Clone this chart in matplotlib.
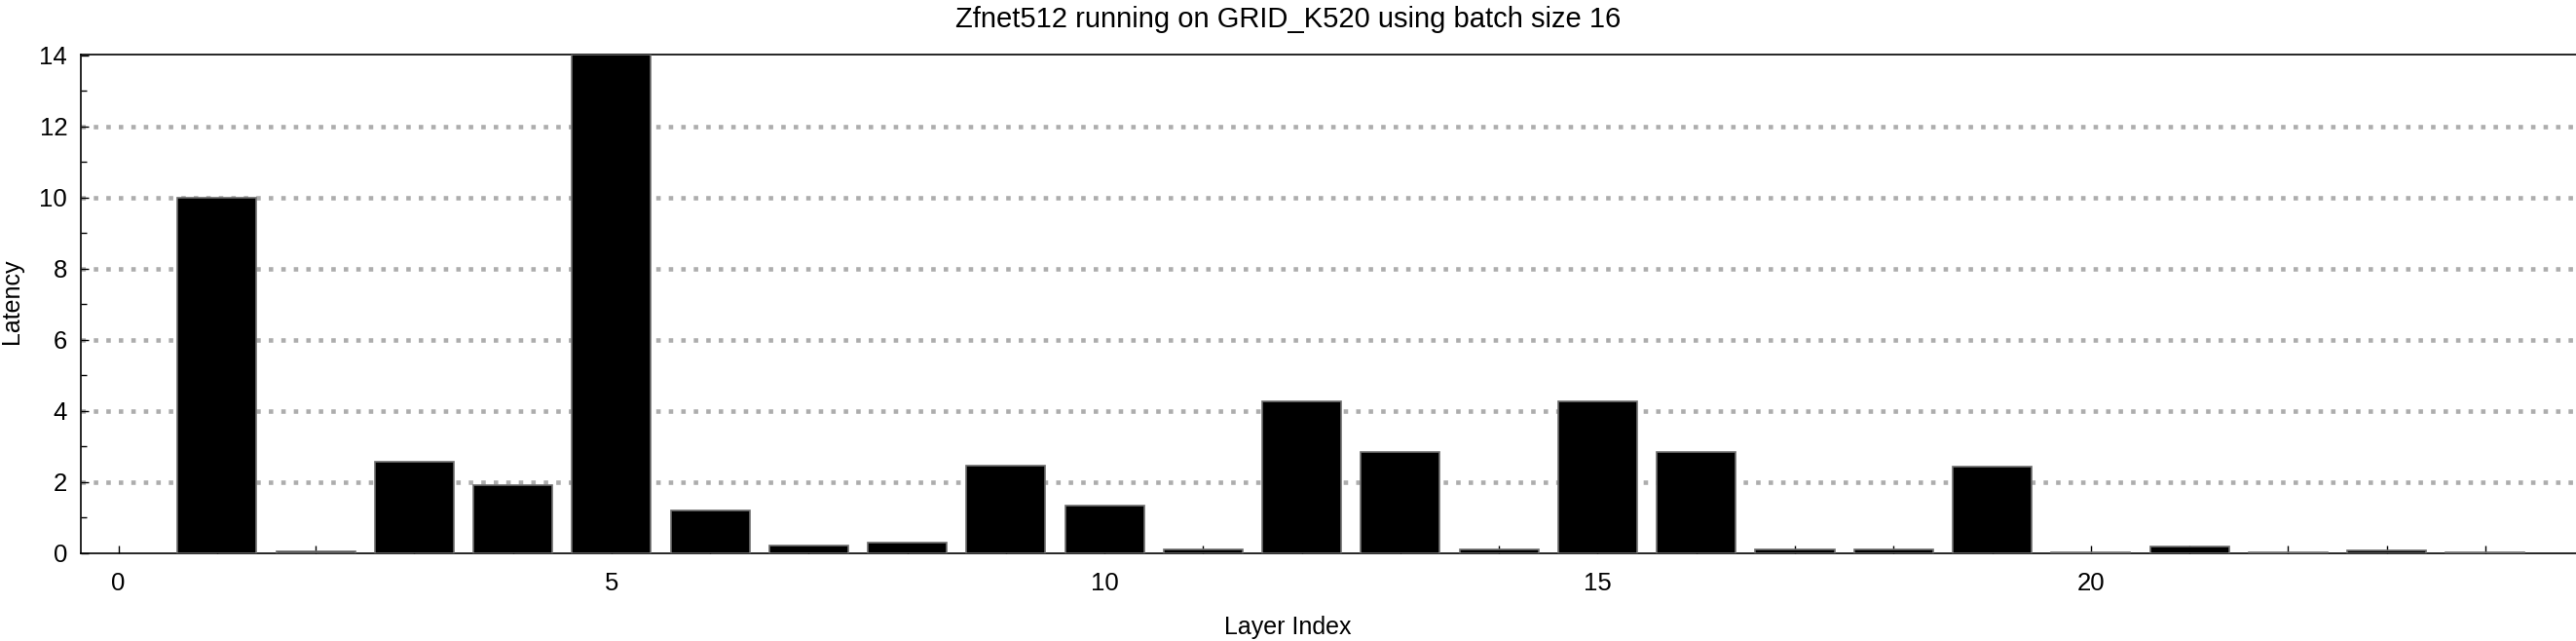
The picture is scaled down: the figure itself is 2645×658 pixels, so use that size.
import matplotlib
matplotlib.use("Agg")
import matplotlib.pyplot as plt
from matplotlib.ticker import MultipleLocator

# ── data ────────────────────────────────────────────────────────────────────
layer_index = list(range(1, 25))
latency = [10.0, 0.05, 2.57, 1.92, 14.02, 1.21, 0.22, 0.30, 2.47, 1.34,
           0.11, 4.27, 2.85, 0.11, 4.27, 2.85, 0.11, 0.11, 2.44, 0.03,
           0.19, 0.03, 0.08, 0.03]

TITLE = "Zfnet512 running on GRID_K520 using batch size 16"
XLABEL = "Layer Index"
YLABEL = "Latency"

plt.rcParams["font.family"] = ["Liberation Sans", "DejaVu Sans"]

fig = plt.figure(figsize=(26.45, 6.58), dpi=100)
ax = fig.add_axes([0.0314, 0.1368, 0.9686, 0.7781])

ax.bar(layer_index, latency, width=0.8, color="black",
       edgecolor="#6e6e6e", linewidth=1.2, zorder=3)

ax.set_xlim(-0.38, 24.92)
ax.set_ylim(0, 14.02)

# dotted horizontal grid behind the bars
for yv in range(2, 14, 2):
    ax.axhline(yv, color="#adadad", linewidth=3.3, linestyle=(0, (1, 1.8)),
               zorder=1)

ax.xaxis.set_major_locator(MultipleLocator(5))
ax.xaxis.set_minor_locator(MultipleLocator(1))
ax.yaxis.set_major_locator(MultipleLocator(2))
ax.yaxis.set_minor_locator(MultipleLocator(1))
ax.tick_params(axis="both", which="both", direction="in", labelsize=18.5,
               width=1.0, color="black")
ax.tick_params(axis="x", which="major", length=6, pad=14)
ax.tick_params(axis="x", which="minor", length=6)
ax.tick_params(axis="y", which="major", length=6, pad=10)
ax.tick_params(axis="y", which="minor", length=4)
ax.tick_params(top=False, right=False, which="both")

ax.spines["right"].set_visible(False)
for s in ("left", "bottom", "top"):
    ax.spines[s].set_linewidth(1.2)

fig.text(0.5, 0.97, TITLE, ha="center", va="center", fontsize=21)
fig.text(0.5, 0.022, XLABEL, ha="center", va="center", fontsize=18)
fig.text(0.0045, 0.53, YLABEL, ha="center", va="center", fontsize=18,
         rotation=90)

fig.savefig("out.png", dpi=100, facecolor="white")
